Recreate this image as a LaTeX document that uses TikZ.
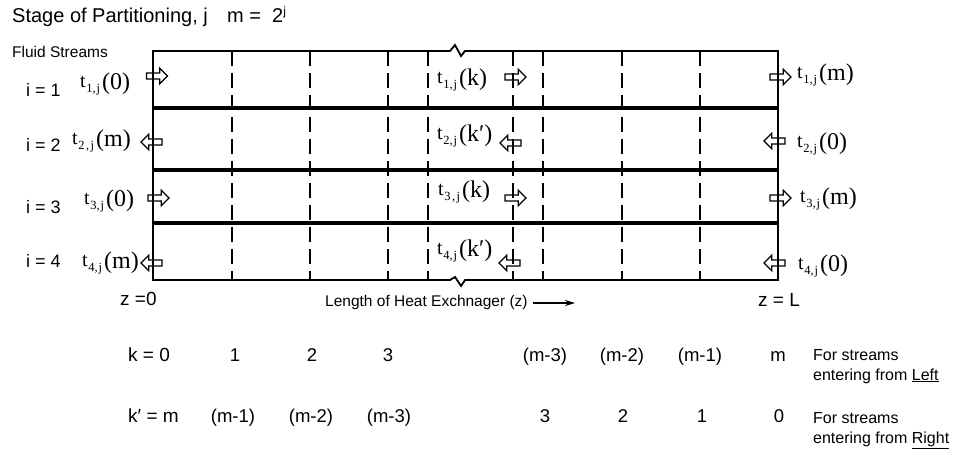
\documentclass[tikz,border=0pt]{standalone}
\usepackage{fontspec}
\setmainfont{Liberation Sans}
\newfontfamily\tms{Liberation Serif}
\usetikzlibrary{shapes.arrows,arrows.meta}
\newcommand{\fs}[1]{\fontsize{#1}{#1}\selectfont}
\newcommand{\tlab}[2]{\raisebox{2pt}{\tms\fs{20}t}\kern0.5pt\raisebox{-3pt}{\tms\fs{12.5}#1}\kern2pt{\tms\fs{24}(#2)}}
\tikzset{
  tl/.style={inner sep=0pt, anchor=west},
  rarrow/.style={single arrow, draw, line width=1.3pt, inner sep=2.4pt,
     single arrow head extend=4.8pt, minimum height=21pt},
  larrow/.style={rarrow, shape border rotate=180},
  lab/.style={inner sep=0pt, anchor=base west, font=\fs{18}},
  klab/.style={inner sep=0pt, anchor=base, font=\fs{18.5}},
  note/.style={inner sep=0pt, anchor=base west, font=\fs{16}, align=left},
  frame/.style={line width=1.8pt, line join=miter},
  sep/.style={line width=4.5pt},
  grid/.style={line width=1.3pt, dash pattern=on 15pt off 7pt}
}
\begin{document}
\begin{tikzpicture}[x=1pt,y=-1pt]
\useasboundingbox (0,0) rectangle (954,449);
% dashed grid lines
\foreach \xx in {232,310,388,428,513,543,622,700}
  \draw[grid] (\xx,51) -- (\xx,280);
% separators
\foreach \yy in {108,170,223}
  \draw[sep] (153,\yy) -- (778,\yy);
% outer frame with breaks
\draw[frame] (450,51) -- (455,45) -- (461,56) -- (465,51) -- (778,51) -- (778,280)
  -- (465,280) -- (461,286) -- (455,277) -- (450,280) -- (153,280) -- (153,51) -- cycle;

% title
\node[inner sep=0pt, anchor=base west, font=\fs{20}] (title) at (12,23) {Stage of Partitioning, j};
\node[inner sep=0pt, anchor=base west, font=\fs{20}] (mdef) at (227,23) {m =\ \ 2\raisebox{7pt}{\fs{12}j}};
\node[inner sep=0pt, anchor=base west, font=\fs{15.5}] (fluid) at (12,58) {Fluid Streams};

% stream indices
\node[lab] (i1) at (26,97) {i = 1};
\node[lab] (i2) at (26,152) {i = 2};
\node[lab] (i3) at (26,214) {i = 3};
\node[lab] (i4) at (26,268) {i = 4};

% arrows
\node[rarrow] (a1L) at (155.5,76) {};
\node[larrow] (a2L) at (153,142) {};
\node[rarrow] (a3L) at (157,198) {};
\node[larrow] (a4L) at (153,263) {};
\node[rarrow] (a1M) at (514,77) {};
\node[larrow] (a2M) at (512,143) {};
\node[rarrow] (a3M) at (514,198) {};
\node[larrow] (a4M) at (511,263) {};
\node[rarrow] (a1R) at (779,77) {};
\node[larrow] (a2R) at (776,141) {};
\node[rarrow] (a3R) at (779,198) {};
\node[larrow] (a4R) at (776,263) {};

% temperature labels
\node[tl] (t1L) at (80,84) {\tlab{1,\kern1pt j}{0}};
\node[tl] (t2L) at (72,141) {\tlab{2\kern1.5pt,\kern1.5pt j}{m}};
\node[tl] (t3L) at (84,201) {\tlab{3,\kern1pt j}{0}};
\node[tl] (t4L) at (82,263) {\tlab{4,\kern1pt j}{m}};
\node[tl] (t1M) at (437,80) {\tlab{1,\kern1pt j}{k}};
\node[tl] (t2M) at (437,136) {\tlab{2,\kern1pt j}{k′}};
\node[tl] (t3M) at (438,192) {\tlab{3\kern1.5pt,\kern1.5pt j}{k}};
\node[tl] (t4M) at (437,251) {\tlab{4,\kern1pt j}{k′}};
\node[tl] (t1R) at (797,75) {\tlab{1,\kern1pt j}{m}};
\node[tl] (t2R) at (797,144) {\tlab{2,\kern1pt j}{0}};
\node[tl] (t3R) at (800,199) {\tlab{3,\kern1pt j}{m}};
\node[tl] (t4R) at (798,266) {\tlab{4,\kern1pt j}{0}};

% axis labels
\node[inner sep=0pt, anchor=base west, font=\fs{19}] (z0) at (120,306) {z =0};
\node[inner sep=0pt, anchor=base west, font=\fs{15.5}] (len) at (325,307) {Length of Heat Exchnager (z)};
\coordinate (lenend) at (575,303);
\draw[line width=1.5pt, -{Stealth[length=10pt,width=6pt]}] ([xshift=5pt]len.east |- 0,303) -- (lenend);
\node[inner sep=0pt, anchor=base west, font=\fs{19}] (zL) at (758,307) {z = L};

% k row
\node[inner sep=0pt, anchor=base west, font=\fs{19}] (k0) at (128,362) {k = 0};
\node[klab] (k1) at (235,362) {1};
\node[klab] (k2) at (312,362) {2};
\node[klab] (k3) at (388,362) {3};
\node[klab] (km3) at (545,362) {(m-3)};
\node[klab] (km2) at (622,362) {(m-2)};
\node[klab] (km1) at (700,362) {(m-1)};
\node[klab] (km) at (778,362) {m};
\node[note] (noteL) at (813,380) {For streams\\[4pt]entering from \underline{Left}};

% k' row
\node[inner sep=0pt, anchor=base west, font=\fs{19}] (kp0) at (128,422) {k′ = m};
\node[klab] (kp1) at (233,422) {(m-1)};
\node[klab] (kp2) at (311,422) {(m-2)};
\node[klab] (kp3) at (389,422) {(m-3)};
\node[klab] (kp4) at (545,422) {3};
\node[klab] (kp5) at (623,422) {2};
\node[klab] (kp6) at (702,422) {1};
\node[klab] (kp7) at (779,422) {0};
\node[note] (noteR) at (813,443) {For streams\\[4pt]entering from \underline{Right}};
\end{tikzpicture}
\end{document}
